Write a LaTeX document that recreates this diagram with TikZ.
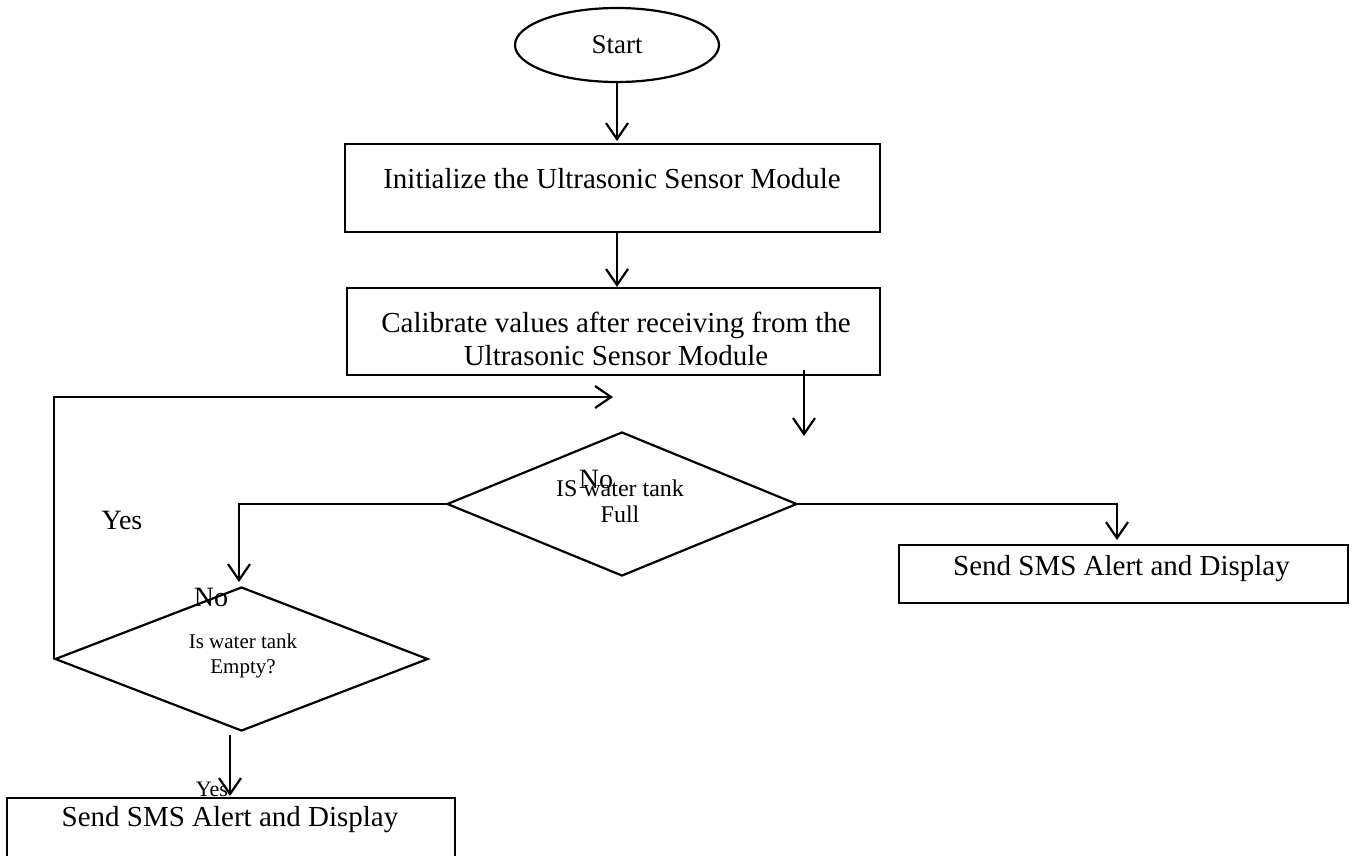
\documentclass[tikz,border=0pt]{standalone}
\usepackage{fontspec}
\setmainfont{Liberation Serif}
\usetikzlibrary{shapes.geometric,arrows.meta}
\begin{document}
\begin{tikzpicture}[x=1pt,y=-1pt,
  line width=2.2pt,
  >={Straight Barb[length=16pt,width=22pt]},
  box/.style={draw, rectangle, inner sep=0pt, line width=2.2pt},
  dec/.style={draw, diamond, inner sep=0pt, line width=2.2pt},
  lbl/.style={anchor=base, inner sep=0pt},
  big/.style={font=\fontsize{29}{33}\selectfont},
  lab/.style={font=\fontsize{28}{32}\selectfont},
]
\useasboundingbox (0,0) rectangle (1357,855);
\clip (0,0) rectangle (1357,855);

% shapes
\node[draw, ellipse, inner sep=0pt, minimum width=204pt, minimum height=74pt,
      font=\fontsize{27}{31}\selectfont] (start) at (617,45) {Start};
\node[box, minimum width=535pt, minimum height=88pt] (box1) at (612.5,188) {};
\node[box, minimum width=533pt, minimum height=87pt] (box2) at (613.5,331.5) {};
\node[dec, minimum width=350pt, minimum height=144pt] (dia1) at (622,504) {};
\node[box, minimum width=449pt, minimum height=58pt] (box3) at (1123.5,574) {};
\node[dec, minimum width=373pt, minimum height=144pt] (dia2) at (241.5,659) {};
\node[box, minimum width=448pt, minimum height=82pt] (box4) at (231,839) {};

% texts
\node[lbl, big] (t1) at (612,188) {Initialize the Ultrasonic Sensor Module};
\node[inner sep=0pt, align=center, font=\fontsize{29}{33}\selectfont] (t2) at (616,339)
  {Calibrate values after receiving from the\\Ultrasonic Sensor Module};
\node[inner sep=0pt, align=center, font=\fontsize{24}{26}\selectfont] (t3) at (620,501)
  {IS water tank\\Full};
\node[inner sep=0pt, align=center, font=\fontsize{21}{25}\selectfont] (t4) at (243,655.7)
  {Is water tank\\Empty?};
\node[lbl, big] (t5) at (1121.5,575) {Send SMS Alert and Display};
\node[lbl, big] (t6) at (230,826) {Send SMS Alert and Display};

% labels
\node[lbl, lab] (yes1) at (122,529) {Yes};
\node[lbl, lab] (no1) at (596,488) {No};
\node[lbl, lab] (no2) at (211,606) {No};
\node[lbl, font=\fontsize{22}{26}\selectfont] (yes2) at (212,796) {Yes};

% free ends
\coordinate (a1e) at (617,141);
\coordinate (b2o) at (804,370);
\coordinate (d1i) at (804,436);
\coordinate (loopend) at (613,397);
\coordinate (d2i) at (239,582);
\coordinate (b3i) at (1117,540);
\coordinate (d2o) at (230,735);
\coordinate (b4i) at (230,796);

% connectors
\draw[->] (start.south) -- (a1e);
\draw[->] (box1.south -| start.south) -- (box2.north -| start.south);
\draw[->] (b2o) -- (d1i);
\draw[->] (dia2.west) -- (dia2.west |- loopend) -- (loopend);
\draw[->] (dia1.west) -| (d2i);
\draw[->] (dia1.east) -| (b3i);
\draw[->] (d2o) -- (b4i);
\end{tikzpicture}
\end{document}
